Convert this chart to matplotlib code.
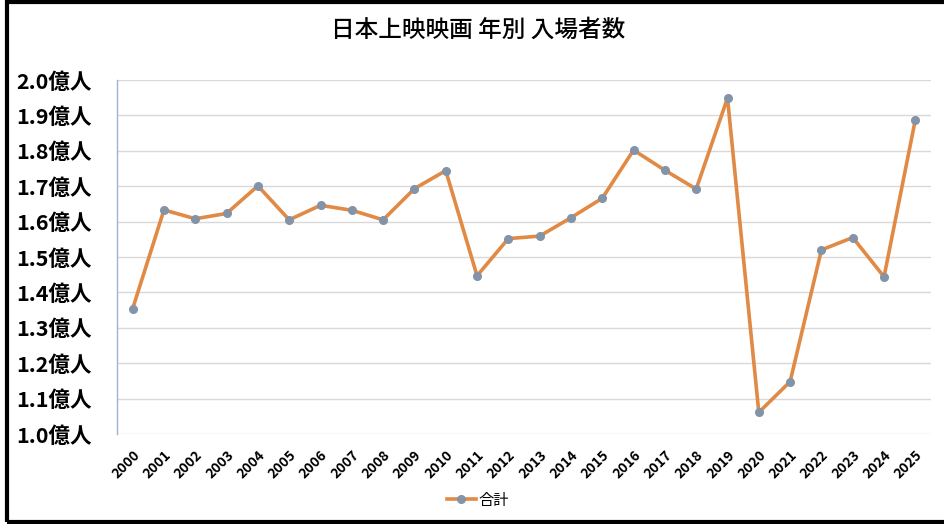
import matplotlib
matplotlib.use("Agg")
import matplotlib.pyplot as plt
from matplotlib.patches import Rectangle

plt.rcParams['font.family'] = ['Noto Sans CJK JP', 'DejaVu Sans']

years = [str(y) for y in range(2000, 2026)]
# 入場者数（億人）
total = [1.354, 1.633, 1.608, 1.623, 1.701, 1.605, 1.646, 1.632, 1.605, 1.693,
         1.744, 1.447, 1.552, 1.559, 1.611, 1.666, 1.802, 1.745, 1.692, 1.949,
         1.061, 1.148, 1.520, 1.555, 1.444, 1.888]
yticks = [1.0 + 0.1 * i for i in range(11)]
ytick_labels = [f"{v:.1f}億人" for v in yticks]

fig = plt.figure(figsize=(9.44, 5.24), dpi=100)
ax = fig.add_axes([117 / 944, 1 - 434 / 524, 814 / 944, 354 / 524])

x = list(range(len(years)))
ax.plot(x, total, color='#e08a45', linewidth=2.6, marker='o', markersize=5.5,
        markerfacecolor='#8393a8', markeredgecolor='#8393a8', label='合計', zorder=3)

ax.set_xlim(-0.5, len(years) - 0.5)
ax.set_ylim(1.0, 2.0)
ax.set_yticks(yticks)
ax.set_yticklabels(ytick_labels, fontsize=15.5, fontweight='bold')
ax.set_xticks(x)
ax.set_xticklabels(years, rotation=45, ha='right', rotation_mode='anchor',
                   fontsize=10, fontweight='bold')
ax.tick_params(axis='y', length=0, pad=18)
ax.tick_params(axis='x', length=0, pad=10)

ax.grid(axis='y', color='#d9d9d9', linewidth=1)
ax.set_axisbelow(True)
for s in ['top', 'right', 'bottom']:
    ax.spines[s].set_visible(False)
ax.spines['left'].set_color('#9fb3cf')
ax.spines['left'].set_linewidth(1)

fig.text(478 / 944, 1 - 30 / 524, '日本上映映画 年別 入場者数', ha='center', va='center',
         fontsize=17, fontweight='medium')

leg = fig.legend(loc='center', bbox_to_anchor=(478 / 944, 1 - 500 / 524), frameon=False,
                 fontsize=11, handlelength=1.9, handletextpad=0.2)

# 外枠
fig.patches.append(Rectangle((6.5 / 944, 2 / 524), 1.2, 1 - 4 / 524,
                             transform=fig.transFigure, fill=False,
                             edgecolor='black', linewidth=3, clip_on=False))

fig.savefig('out.png', dpi=100)
